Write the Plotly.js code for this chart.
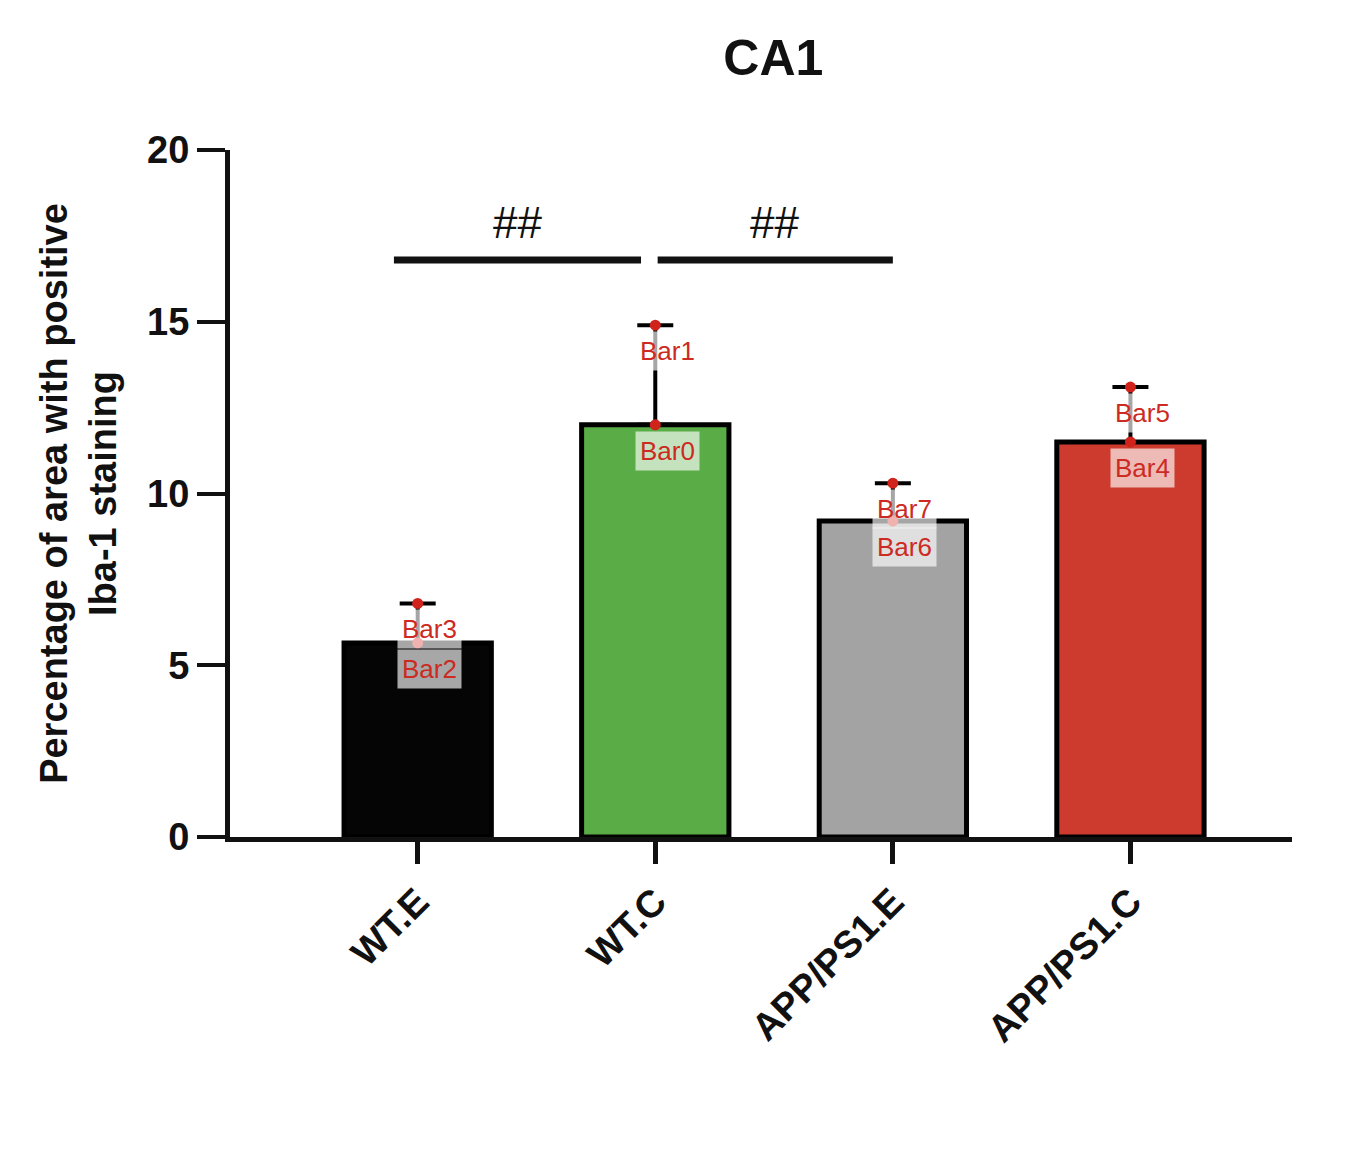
<!DOCTYPE html>
<html>
<head>
<meta charset="utf-8">
<script src="https://cdn.plot.ly/plotly-3.0.1.min.js"></script>
<style>body{margin:0;background:#fff}</style>
</head>
<body>
<div id="chart" style="width:1364px;height:1154px"></div>
<script>
// data
var groups = ['WT.E', 'WT.C', 'APP/PS1.E', 'APP/PS1.C'];
var means = [5.65, 12.0, 9.2, 11.5];
var errUp = [1.15, 2.9, 1.1, 1.6];
var colors = ['#050505', '#5aad46', '#a3a3a3', '#cc3b2e'];
var barNames = [['Bar2', 'Bar3'], ['Bar0', 'Bar1'], ['Bar6', 'Bar7'], ['Bar4', 'Bar5']];

var bars = {
    x: [0, 1, 2, 3],
    y: means,
    type: 'bar',
    width: 0.62,
    marker: {color: colors, line: {color: '#000', width: 5}},
    error_y: {type: 'data', symmetric: false, array: errUp, arrayminus: [0, 0, 0, 0],
              color: '#000', thickness: 4, width: 18},
    hoverinfo: 'none'
};

var tops = means.map(function (m, i) { return m + errUp[i]; });
var dots = {
    x: [0, 1, 2, 3, 0, 1, 2, 3],
    y: means.concat(tops),
    mode: 'markers',
    type: 'scatter',
    marker: {color: '#d0231c', size: 11},
    hoverinfo: 'none'
};

var ann = [];
groups.forEach(function (g, i) {
    [means[i], tops[i]].forEach(function (v, k) {
        ann.push({x: i + 0.05, y: v, xref: 'x', yref: 'y', text: barNames[i][k],
                  showarrow: false, yshift: -26,
                  font: {size: 26, color: '#cc2a22', family: 'Liberation Sans, Arial'},
                  bgcolor: 'rgba(255,255,255,0.65)', borderpad: 4});
    });
});
ann.push({x: 0.42, y: 17.9, xref: 'x', yref: 'y', text: '##', showarrow: false,
          font: {size: 44, color: '#111', family: 'Liberation Sans, Arial'}});
ann.push({x: 1.5, y: 17.9, xref: 'x', yref: 'y', text: '##', showarrow: false,
          font: {size: 44, color: '#111', family: 'Liberation Sans, Arial'}});

var layout = {
    width: 1364, height: 1154,
    margin: {l: 230, r: 72, t: 150, b: 317},
    paper_bgcolor: '#fff', plot_bgcolor: '#fff',
    showlegend: false,
    font: {family: 'Liberation Sans, Arial', color: '#111'},
    title: {text: '<b>CA1</b>', x: 0.567, xanchor: 'center', y: 0.965, font: {size: 50, color: '#111'}},
    xaxis: {
        range: [-0.79, 3.68], tickmode: 'array', tickvals: [0, 1, 2, 3], ticktext: groups.map(function (g) { return '<b>' + g + '</b>'; }),
        tickangle: -45, ticks: 'outside', ticklen: 22, tickwidth: 5, tickcolor: '#111',
        showline: true, linewidth: 5, linecolor: '#111', showgrid: false, zeroline: false,
        tickfont: {size: 38, color: '#111'}
    },
    yaxis: {
        range: [0, 20], tickvals: [0, 5, 10, 15, 20], ticktext: ['<b>0</b>', '<b>5</b>', '<b>10</b>', '<b>15</b>', '<b>20</b>'],
        ticks: 'outside', ticklen: 28, tickwidth: 4, tickcolor: '#111',
        showline: true, linewidth: 5, linecolor: '#111', showgrid: false, zeroline: false,
        tickfont: {size: 38, color: '#111'},
        title: {text: '<b>Percentage of area with positive<br>Iba-1 staining</b>', font: {size: 38, color: '#111'}, standoff: 20}
    },
    shapes: [
        {type: 'line', xref: 'x', yref: 'y', x0: -0.1, x1: 0.94, y0: 16.8, y1: 16.8, line: {color: '#111', width: 7}},
        {type: 'line', xref: 'x', yref: 'y', x0: 1.01, x1: 2.0, y0: 16.8, y1: 16.8, line: {color: '#111', width: 7}}
    ],
    annotations: ann
};

Plotly.newPlot('chart', [bars, dots], layout, {displayModeBar: false});
</script>
</body>
</html>
